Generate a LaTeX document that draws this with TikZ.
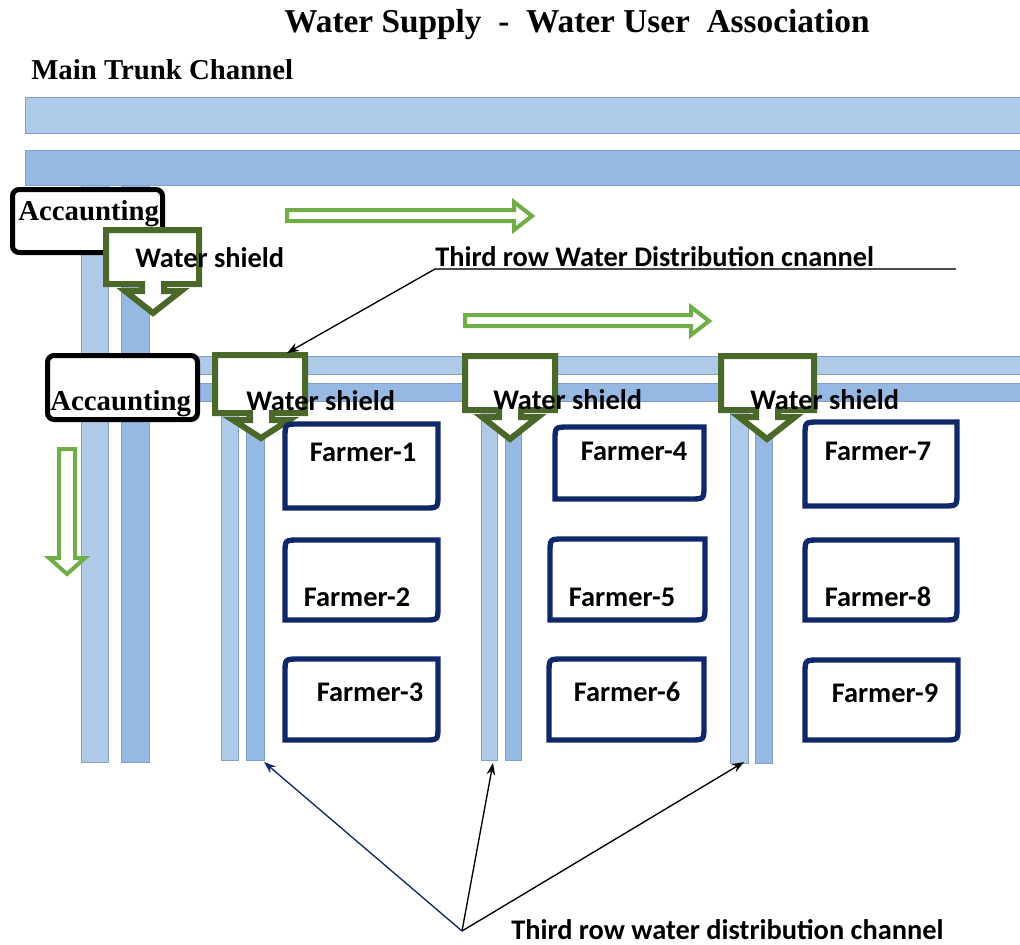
\documentclass[tikz,border=0pt]{standalone}
\usepackage{fontspec}
\setmainfont{Liberation Serif}
\newfontfamily\carl{Carlito}
\usetikzlibrary{arrows.meta}
\definecolor{bandA}{RGB}{175,201,233}
\definecolor{bandB}{RGB}{150,185,227}
\definecolor{bandedge}{RGB}{125,160,205}
\definecolor{shieldgreen}{RGB}{74,104,40}
\definecolor{flowgreen}{RGB}{112,173,71}
\definecolor{navy}{RGB}{16,40,105}
\newcommand\shieldshape[7]{%
  \draw[shieldline] (#1,#2) -- (#3,#2) -- (#3,#4) -- (#5+11,#4) -- (#5+11,#4+7)
    -- (#5+28,#4+7) -- (#5,#6) -- (#5-28,#4+7) -- (#5-11,#4+7) -- (#5-11,#4) -- (#1,#4) -- cycle;
  \coordinate (#7) at (#5,#6);
}
\newcommand\farmerbox[8]{%
  \draw[farmerline] (#2,#3+14) .. controls (#2,#3) .. (#2+14,#3) -- (#4,#3) -- (#4,#5-14)
    .. controls (#4,#5) .. (#4-14,#5) -- (#2,#5) -- cycle;
  \node[sansbold] (#1) at (#7,#8) {#6};
}
\begin{document}
\begin{tikzpicture}[x=0.75pt,y=-0.75pt,
  lightband/.style={fill=bandA,draw=bandedge,line width=0.5pt},
  darkband/.style={fill=bandB,draw=bandedge,line width=0.5pt},
  accbox/.style={draw=black,fill=white,line width=3.75pt,rounded corners=5pt},
  shieldline/.style={draw=shieldgreen,fill=white,line width=4.5pt,line join=miter},
  farmerline/.style={draw=navy,fill=white,line width=4pt},
  flowarrow/.style={draw=flowgreen,fill=white,line width=3pt,line join=miter},
  serifbold/.style={font=\fontsize{21.6}{24}\selectfont\bfseries,inner sep=0pt},
  sansbold/.style={font=\carl\fontsize{21.3}{24}\selectfont\bfseries,inner sep=0pt},
  pointer/.style={line width=1pt,-{Stealth[length=9pt,width=6.5pt]}},
]
\useasboundingbox (0,0) rectangle (1020,945);
\fill[white] (0,0) rectangle (1020,945);

% main trunk channel bands
\draw[lightband] (25,97) rectangle (1020,133);
\draw[darkband] (25,150) rectangle (1020,185);
% left vertical channels
\draw[lightband] (81,185) rectangle (108,762);
\draw[darkband] (121,185) rectangle (149,762);
% second row horizontal channels
\draw[lightband] (149,356) rectangle (1020,374);
\draw[darkband] (149,383) rectangle (1020,401);
% third row vertical channels
\draw[lightband] (221,401) rectangle (238,760);
\draw[darkband] (246,401) rectangle (264,760);
\draw[lightband] (481,401) rectangle (497,760);
\draw[darkband] (505,401) rectangle (521,760);
\draw[lightband] (730,401) rectangle (748,763);
\draw[darkband] (755,401) rectangle (772,763);
\coordinate (g1) at (264,762);
\coordinate (g2) at (493,763);
\coordinate (g3) at (744,762);

% accounting boxes
\draw[accbox] (12.5,189.5) rectangle (162.5,252.5);
\draw[accbox] (47.5,355.5) rectangle (197.5,419.5);

% water shields
\shieldshape{106}{230}{199}{284}{153}{313}{s1tip}
\shieldshape{215}{355}{305}{413}{261}{438}{s2tip}
\shieldshape{465}{356}{555}{410}{510}{439}{s3tip}
\shieldshape{721}{356}{814}{410}{767}{439}{s4tip}
\coordinate (s2top) at (287,353);

% flow arrows
\draw[flowarrow] (287,210) -- (514,210) -- (514,202) -- (532,216) -- (514,230) -- (514,221) -- (287,221) -- cycle;
\draw[flowarrow] (465,315) -- (691,315) -- (691,307) -- (709,321) -- (691,335) -- (691,326) -- (465,326) -- cycle;
\draw[flowarrow] (59,449) -- (75,449) -- (75,558) -- (85,558) -- (67,574) -- (49,558) -- (59,558) -- cycle;

% farmers
\farmerbox{f1}{285}{424}{438}{508}{Farmer-1}{363}{452}
\farmerbox{f2}{285}{540}{438}{620}{Farmer-2}{357}{597}
\farmerbox{f3}{285}{659}{438}{740}{Farmer-3}{370}{692}
\farmerbox{f4}{555}{427}{704}{499}{Farmer-4}{634}{451}
\farmerbox{f5}{550}{539}{705}{620}{Farmer-5}{622}{597}
\farmerbox{f6}{549}{659}{704}{740}{Farmer-6}{627}{692}
\farmerbox{f7}{805}{422}{957}{506}{Farmer-7}{878}{451}
\farmerbox{f8}{805}{540}{957}{620}{Farmer-8}{878}{597}
\farmerbox{f9}{805}{660}{958}{740}{Farmer-9}{885}{693}

% texts
\node[font=\fontsize{25}{28}\selectfont\bfseries,inner sep=0pt,anchor=base] (title) at (577,33)
  {Water Supply\ \ -\ \ Water User\ \ Association};
\node[serifbold,anchor=base west] (trunk) at (31,80) {Main Trunk Channel};
\node[serifbold,anchor=base west] (acc1) at (18,220) {Accaunting};
\node[serifbold,anchor=base west] (acc2) at (50,410) {Accaunting};
\node[sansbold,anchor=base west] (ws1) at (135,267) {Water shield};
\node[sansbold,anchor=base west] (ws2) at (246,410) {Water shield};
\node[sansbold,anchor=base west] (ws3) at (493,409) {Water shield};
\node[sansbold,anchor=base west] (ws4) at (750,409) {Water shield};

% upper label and pointer
\node[sansbold,anchor=base west] (toplabel) at (435,266) {Third row Water Distribution cnannel};
\coordinate (ul) at (435,269);
\coordinate (ur) at (956,269);
\draw[line width=1pt,black!70] (ul) -- (ur);
\draw[pointer] (ul) -- (s2top);

% bottom label and pointers
\node[sansbold,anchor=base west] (botlabel) at (511,939) {Third row water distribution channel};
\coordinate (src) at (462,931);
\draw[pointer,navy] (src) -- (g1);
\draw[pointer] (src) -- (g2);
\draw[pointer] (src) -- (g3);
\end{tikzpicture}
\end{document}
